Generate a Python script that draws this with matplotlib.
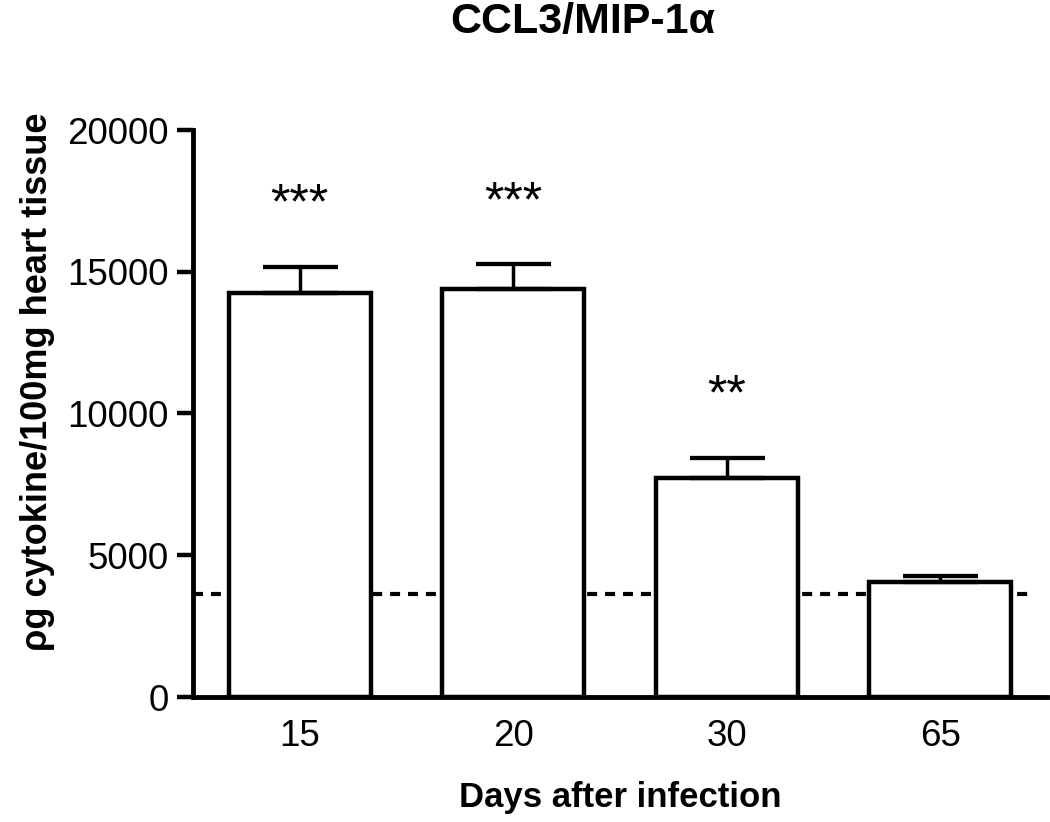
import matplotlib
matplotlib.use("Agg")
import matplotlib.pyplot as plt

days = ["15", "20", "30", "65"]
means = [14250, 14400, 7720, 4070]
sems = [930, 880, 720, 210]
stars = ["***", "***", "**", ""]
baseline_level = 3620
y_ticks = [0, 5000, 10000, 15000, 20000]

plt.rcParams['font.family'] = ['Liberation Sans', 'DejaVu Sans']

fig = plt.figure(figsize=(10.5, 8.22), dpi=100)
ax = fig.add_axes([193/1050, 1-697/822, (1047-193)/1050, (697-130)/822])

x = list(range(len(days)))
ax.axhline(baseline_level, xmin=0, xmax=0.984, color='black', lw=3.0,
           linestyle=(0, (2.4, 1.9)), zorder=1)
ax.bar(x, means, width=2/3, color='white', edgecolor='black', linewidth=3.2, zorder=2)
ax.errorbar(x, means, yerr=[[0]*len(sems), sems], fmt='none', ecolor='black',
            elinewidth=2.5, capsize=27, capthick=3.1, zorder=3)
for xi, m, s, st in zip(x, means, sems, stars):
    if st:
        ax.text(xi, m + s + 1690, st, ha='center', va='baseline', fontsize=36)

ax.set_xlim(-0.5, 3.5)
ax.set_ylim(0, 20000)
ax.set_yticks(y_ticks)
ax.set_xticks(x)
ax.set_xticklabels(days)
ax.tick_params(axis='y', length=11.5, width=3.2, labelsize=26.5, pad=6)
ax.tick_params(axis='x', length=0, labelsize=26.5, pad=16)
for sp in ['top', 'right']:
    ax.spines[sp].set_visible(False)
for sp in ['left', 'bottom']:
    ax.spines[sp].set_linewidth(3.5)
ax.spines['bottom'].set_zorder(4)

fig.text(620/1050, 1-797/822, "Days after infection", ha='center', va='center',
         fontsize=25, fontweight='bold')
fig.text(38/1050, 1-382/822, "ρg cytokine/100mg heart tissue", ha='center', va='center',
         rotation=90, fontsize=26, fontweight='bold')
fig.text(583/1050, 1-22/822, "CCL3/MIP-1α", ha='center', va='center', fontsize=31, fontweight='bold')

fig.savefig("out.png", dpi=100)
